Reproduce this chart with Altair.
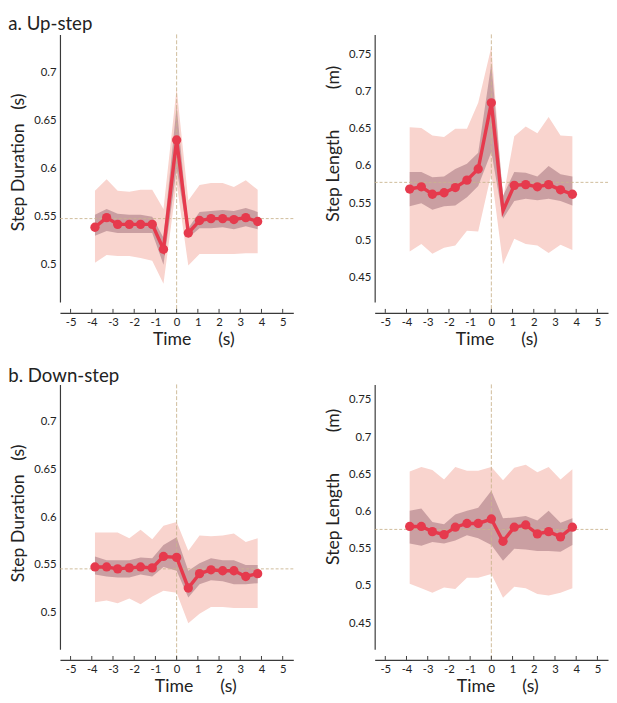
import altair as alt
import pandas as pd

FONT = "Lato"
RED = "#e63a4d"
LIGHT = "#f9d4ce"
DARK = "#b98d93"
TAN = "#c9b48e"
AX = "#3a3a3a"

# time of each step (s)
t = [-3.85, -3.3, -2.78, -2.23, -1.7, -1.15, -0.62, 0.0, 0.55, 1.08, 1.62, 2.17, 2.7, 3.26, 3.82]
x_ticks = [-5, -4, -3, -2, -1, 0, 1, 2, 3, 4, 5]

# a. Up-step, step duration (s)
a_dur_mean = [0.539, 0.549, 0.542, 0.542, 0.542, 0.542, 0.516, 0.630, 0.533, 0.546, 0.548, 0.548, 0.547, 0.549, 0.545]
a_dur_sd_hi = [0.577, 0.589, 0.577, 0.576, 0.578, 0.578, 0.558, 0.684, 0.567, 0.583, 0.585, 0.585, 0.581, 0.588, 0.578]
a_dur_sd_lo = [0.502, 0.510, 0.509, 0.509, 0.507, 0.504, 0.480, 0.585, 0.499, 0.511, 0.511, 0.511, 0.511, 0.512, 0.512]
a_dur_se_hi = [0.552, 0.558, 0.553, 0.552, 0.552, 0.550, 0.528, 0.665, 0.538, 0.555, 0.556, 0.557, 0.556, 0.559, 0.555]
a_dur_se_lo = [0.530, 0.535, 0.533, 0.533, 0.533, 0.533, 0.500, 0.600, 0.528, 0.538, 0.538, 0.539, 0.537, 0.540, 0.537]
a_dur_ref = 0.548
a_dur_marker = [1, 1, 1, 1, 1, 1, 1, 1, 1, 1, 1, 1, 1, 1, 1]

# a. Up-step, step length (m)
a_len_mean = [0.569, 0.572, 0.562, 0.564, 0.571, 0.581, 0.596, 0.685, 0.540, 0.574, 0.575, 0.572, 0.575, 0.568, 0.562]
a_len_sd_hi = [0.652, 0.651, 0.641, 0.639, 0.650, 0.650, 0.685, 0.760, 0.556, 0.640, 0.653, 0.644, 0.666, 0.641, 0.640]
a_len_sd_lo = [0.485, 0.495, 0.482, 0.490, 0.493, 0.513, 0.512, 0.590, 0.468, 0.502, 0.495, 0.493, 0.483, 0.494, 0.487]
a_len_se_hi = [0.592, 0.592, 0.585, 0.586, 0.596, 0.603, 0.618, 0.738, 0.560, 0.592, 0.591, 0.586, 0.600, 0.589, 0.586]
a_len_se_lo = [0.546, 0.550, 0.541, 0.546, 0.547, 0.558, 0.573, 0.619, 0.529, 0.553, 0.556, 0.554, 0.556, 0.553, 0.547]
a_len_ref = 0.578
a_len_marker = [1, 1, 1, 1, 1, 1, 1, 1, 0, 1, 1, 1, 1, 1, 1]

# b. Down-step, step duration (s)
b_dur_mean = [0.548, 0.548, 0.546, 0.547, 0.548, 0.547, 0.559, 0.558, 0.526, 0.541, 0.545, 0.544, 0.544, 0.538, 0.541]
b_dur_sd_hi = [0.584, 0.584, 0.584, 0.578, 0.587, 0.577, 0.591, 0.595, 0.565, 0.581, 0.580, 0.581, 0.583, 0.574, 0.578]
b_dur_sd_lo = [0.511, 0.513, 0.510, 0.515, 0.509, 0.517, 0.523, 0.521, 0.489, 0.499, 0.506, 0.506, 0.505, 0.505, 0.505]
b_dur_se_hi = [0.559, 0.555, 0.555, 0.555, 0.558, 0.557, 0.571, 0.579, 0.544, 0.552, 0.557, 0.555, 0.555, 0.550, 0.550]
b_dur_se_lo = [0.540, 0.538, 0.537, 0.537, 0.540, 0.538, 0.548, 0.544, 0.516, 0.530, 0.534, 0.533, 0.530, 0.530, 0.531]
b_dur_ref = 0.546
b_dur_marker = [1, 1, 1, 1, 1, 1, 1, 1, 1, 1, 1, 1, 1, 1, 1]

# b. Down-step, step length (m)
b_len_mean = [0.580, 0.580, 0.573, 0.569, 0.579, 0.584, 0.584, 0.590, 0.560, 0.579, 0.582, 0.570, 0.573, 0.566, 0.579]
b_len_sd_hi = [0.654, 0.660, 0.656, 0.643, 0.660, 0.655, 0.655, 0.660, 0.642, 0.659, 0.663, 0.653, 0.660, 0.643, 0.657]
b_len_sd_lo = [0.503, 0.497, 0.491, 0.498, 0.496, 0.511, 0.511, 0.516, 0.484, 0.499, 0.497, 0.489, 0.487, 0.491, 0.497]
b_len_se_hi = [0.601, 0.604, 0.586, 0.583, 0.596, 0.601, 0.605, 0.628, 0.591, 0.592, 0.594, 0.588, 0.601, 0.585, 0.591]
b_len_se_lo = [0.557, 0.554, 0.559, 0.557, 0.561, 0.568, 0.564, 0.555, 0.534, 0.550, 0.549, 0.547, 0.547, 0.546, 0.555]
b_len_ref = 0.576
b_len_marker = [1, 1, 1, 1, 1, 1, 1, 1, 1, 1, 1, 1, 1, 1, 1]

dur_ticks = [0.5, 0.55, 0.6, 0.65, 0.7]
len_ticks = [0.45, 0.5, 0.55, 0.6, 0.65, 0.7, 0.75]

NB = "\u00a0"
W = 238
XOFF = 11


def panel(mean, sd_hi, sd_lo, se_hi, se_lo, ref, marker, ydom, yticks, ytitle, title_y, title_x, H):
    df = pd.DataFrame({"t": t, "mean": mean, "sd_hi": sd_hi, "sd_lo": sd_lo,
                       "se_hi": se_hi, "se_lo": se_lo, "marker": marker})
    xs = alt.Scale(domain=[-5.5, 5.5], nice=False, zero=False)
    ys = alt.Scale(domain=ydom, nice=False, zero=False)
    xaxis = alt.Axis(values=x_ticks, labelExpr="'' + datum.value", ticks=False,
                     domainColor=AX, domainWidth=1.2, offset=XOFF, labelPadding=4,
                     labelFontSize=11.5, labelColor="#222", title="Time" + NB * 6 + "(s)",
                     titleFontSize=18, titleFontWeight="normal", titleColor="#222",
                     titleX=title_x, titlePadding=3, grid=False)
    yaxis = alt.Axis(values=yticks, labelExpr="'' + datum.value", ticks=False,
                     domainColor=AX, domainWidth=1.2, labelPadding=4,
                     labelFontSize=11.5, labelColor="#222", title=ytitle,
                     titleFontSize=18, titleFontWeight="normal", titleColor="#222",
                     titleY=title_y, titlePadding=6, grid=False)
    X = lambda f: alt.X(f, scale=xs, axis=xaxis)
    Y = lambda f: alt.Y(f, scale=ys, axis=yaxis)
    base = alt.Chart(df)
    light = base.mark_area(color=LIGHT, opacity=1).encode(
        x=X("t:Q"), y=Y("sd_lo:Q"), y2="sd_hi:Q")
    dark = base.mark_area(color=DARK, opacity=0.75).encode(
        x=X("t:Q"), y=Y("se_lo:Q"), y2="se_hi:Q")
    hline = alt.Chart(pd.DataFrame({"ref": [ref]})).mark_rule(
        color=TAN, strokeDash=[3, 2], strokeWidth=0.9).encode(y=Y("ref:Q"))
    vline = alt.Chart(pd.DataFrame({"v": [0]})).mark_rule(
        color=TAN, strokeDash=[4, 2], strokeWidth=0.9, clip=False).encode(
        x=X("v:Q"), y=alt.value(0), y2=alt.value(H + XOFF))
    ticks = alt.Chart(pd.DataFrame({"tick": x_ticks})).mark_rule(
        color=AX, strokeWidth=1, clip=False).encode(
        x=X("tick:Q"), y=alt.value(H + XOFF), y2=alt.value(H + XOFF - 4))
    line = base.mark_line(color=RED, strokeWidth=3.5).encode(x=X("t:Q"), y=Y("mean:Q"))
    pts = base.transform_filter("datum.marker == 1").mark_circle(
        color=RED, opacity=1, size=90).encode(x=X("t:Q"), y=Y("mean:Q"))
    return alt.layer(light, dark, hline, vline, ticks, line, pts).properties(width=W, height=H)


a_left = panel(a_dur_mean, a_dur_sd_hi, a_dur_sd_lo, a_dur_se_hi, a_dur_se_lo, a_dur_ref, a_dur_marker,
               [0.461, 0.740], dur_ticks, "Step Duration" + NB * 3 + "(s)", 130, 136, 273)
a_right = panel(a_len_mean, a_len_sd_hi, a_len_sd_lo, a_len_se_hi, a_len_se_lo, a_len_ref, a_len_marker,
                [0.417, 0.777], len_ticks, "Step Length" + NB * 9 + "(m)", 111, 124, 273)
b_left = panel(b_dur_mean, b_dur_sd_hi, b_dur_sd_lo, b_dur_se_hi, b_dur_se_lo, b_dur_ref, b_dur_marker,
               [0.462, 0.739], dur_ticks, "Step Duration" + NB * 3 + "(s)", 131, 138, 270)
b_right = panel(b_len_mean, b_len_sd_hi, b_len_sd_lo, b_len_se_hi, b_len_se_lo, b_len_ref, b_len_marker,
                [0.415, 0.771], len_ticks, "Step Length" + NB * 9 + "(m)", 104, 125, 270)

top = alt.hconcat(a_left, a_right, spacing=31).properties(
    title=alt.TitleParams("a. Up-step", anchor="start", frame="bounds", fontSize=19,
                          fontWeight="normal", color="#222", offset=0, dx=-2))
bottom = alt.hconcat(b_left, b_right, spacing=31).properties(
    title=alt.TitleParams("b. Down-step", anchor="start", frame="bounds", fontSize=19,
                          fontWeight="normal", color="#222", offset=-2, dx=-2))

chart = alt.vconcat(top, bottom, spacing=18).properties(padding=0).configure(
    font=FONT).configure_view(stroke=None).configure_title(font=FONT).configure_axis(
    labelFont=FONT, titleFont=FONT)

chart.save("out.html", embed_options={"renderer": "svg", "actions": False})
